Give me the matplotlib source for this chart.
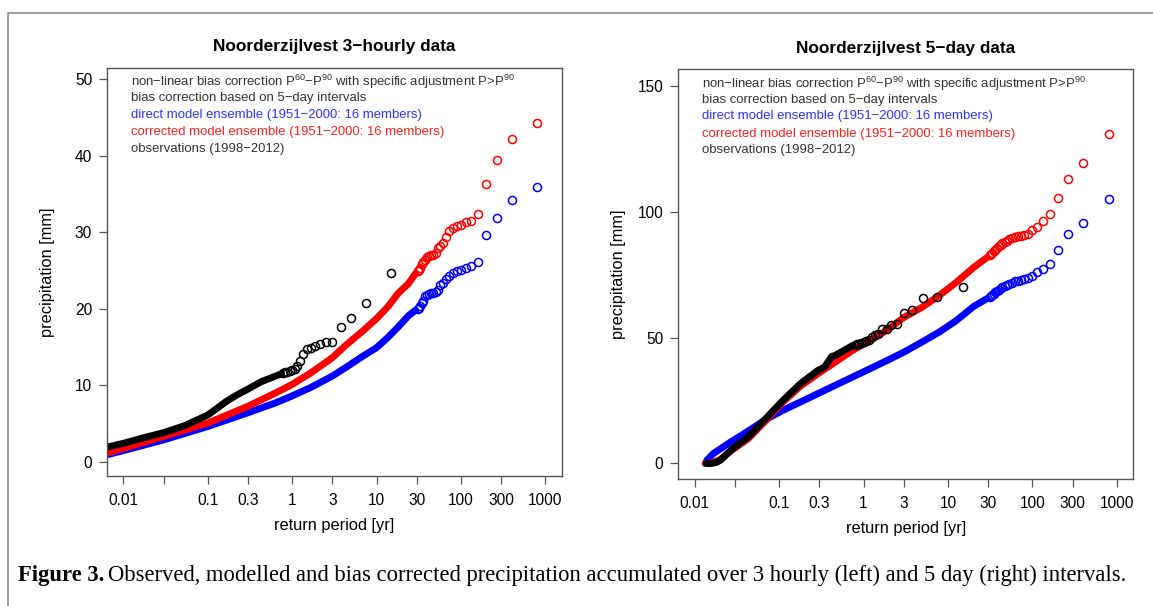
import matplotlib
matplotlib.use("Agg")
import matplotlib.pyplot as plt
from matplotlib.lines import Line2D
from matplotlib.ticker import NullLocator

plt.rcParams["font.family"] = ["Liberation Sans", "DejaVu Sans"]
plt.rcParams["mathtext.fontset"] = "custom"
plt.rcParams["mathtext.rm"] = "Liberation Sans"
plt.rcParams["mathtext.it"] = "Liberation Sans:italic"
plt.rcParams["mathtext.bf"] = "Liberation Sans:bold"

# ---- 3-hourly data (left panel), return period [yr] vs precipitation [mm]
obs3_band_T = [0.005, 0.0064, 0.01, 0.017, 0.03, 0.053, 0.1, 0.126, 0.167, 0.22, 0.3, 0.43, 0.64, 0.75]
obs3_band_P = [1.6, 1.9, 2.4, 3.1, 3.8, 4.7, 6.1, 6.9, 7.9, 8.7, 9.5, 10.45, 11.2, 11.5]
obs3_tail_T = [0.79, 0.83, 0.88, 0.94, 1.0, 1.07, 1.15, 1.25, 1.36, 1.5, 1.67, 1.88, 2.14, 2.5, 3.0, 3.75, 5.0, 7.5, 15.0]
obs3_tail_P = [11.6, 11.7, 11.75, 11.8, 12.0, 12.1, 12.5, 13.1, 14.05, 14.7, 14.9, 15.15, 15.4, 15.6, 15.7, 17.6, 18.8, 20.7, 24.7]

mod3_band_T = [0.005, 0.0064, 0.01, 0.03, 0.1, 0.3, 0.64, 1.0, 1.66, 3.0, 4.3, 6.9, 10.0, 13.5, 18.0, 24.0, 29.0]
mod3_band_P = [0.8, 0.9, 1.45, 2.85, 4.6, 6.4, 7.7, 8.6, 9.7, 11.2, 12.3, 13.8, 14.9, 16.2, 17.6, 19.1, 19.8]
cor3_band_T = [0.005, 0.0064, 0.01, 0.03, 0.1, 0.3, 0.64, 1.0, 1.66, 3.0, 4.3, 6.9, 10.0, 13.5, 18.0, 24.0, 29.0]
cor3_band_P = [0.95, 1.1, 1.75, 3.3, 5.05, 7.25, 9.0, 10.1, 11.6, 13.6, 15.2, 17.1, 18.7, 20.2, 22.0, 23.3, 24.6]

ens_tail_T = [800, 400, 267, 200, 160, 133, 114, 100, 89, 80, 73, 67, 62, 57, 53, 50, 47, 44, 42, 40, 38, 36, 35, 33, 32, 31]
mod3_tail_P = [35.9, 34.25, 31.9, 29.6, 26.1, 25.6, 25.3, 25.1, 24.9, 24.7, 24.3, 23.9, 23.3, 23.1, 22.4, 22.2,
               22.0, 22.0, 21.9, 21.8, 21.6, 21.0, 20.7, 20.3, 20.1, 20.0]
cor3_tail_P = [44.3, 42.2, 39.4, 36.3, 32.4, 31.4, 31.3, 31.0, 30.8, 30.6, 30.2, 29.4, 28.6, 28.2, 27.9, 27.3,
               27.0, 27.0, 26.9, 26.8, 26.4, 26.1, 25.9, 25.3, 25.0, 24.9]

# ---- 5-day data (right panel)
obs5_band_T = [0.0137, 0.016, 0.018, 0.0203, 0.027, 0.0433, 0.0694, 0.111, 0.179, 0.287, 0.345, 0.42, 0.46, 0.74]
obs5_band_P = [0.0, 0.0, 0.4, 1.3, 5.3, 10.6, 17.8, 25.0, 31.7, 36.9, 38.3, 42.5, 42.9, 46.8]
obs5_tail_T = [0.79, 0.83, 0.88, 0.94, 1.0, 1.07, 1.15, 1.25, 1.36, 1.5, 1.67, 1.88, 2.14, 2.5, 3.0, 3.75, 5.0, 7.5, 15.0]
obs5_tail_P = [47.0, 47.3, 47.6, 47.9, 48.2, 48.6, 49.2, 50.1, 51.1, 51.5, 53.2, 53.4, 55.1, 55.4, 59.9, 61.1, 65.6, 66.0, 69.9]

mod5_band_T = [0.0137, 0.014, 0.0168, 0.027, 0.0433, 0.0694, 0.111, 0.179, 0.287, 0.46, 0.74, 1.19, 1.9, 3.0, 4.9, 7.8, 12.5, 20.0, 29.0]
mod5_band_P = [0.5, 1.3, 4.0, 8.6, 12.9, 17.4, 21.1, 24.4, 27.7, 31.0, 34.3, 37.6, 40.9, 44.2, 48.2, 52.1, 56.7, 62.3, 65.5]
cor5_band_T = [0.0133, 0.0165, 0.02, 0.027, 0.0433, 0.0694, 0.111, 0.179, 0.287, 0.46, 0.74, 1.19, 1.9, 3.0, 4.9, 7.8, 12.5, 20.0, 29.0]
cor5_band_P = [0.0, 0.3, 1.5, 5.0, 9.9, 17.0, 24.4, 30.7, 35.6, 40.2, 44.9, 48.8, 53.0, 58.0, 62.0, 66.6, 71.9, 77.8, 81.8]

mod5_tail_P = [105.0, 95.6, 91.0, 84.7, 79.4, 77.2, 75.9, 74.5, 73.6, 73.2, 72.9, 72.6, 72.3, 71.8, 71.3, 71.0,
               70.5, 70.0, 69.5, 69.0, 68.5, 68.0, 67.5, 67.0, 66.5, 66.0]
cor5_tail_P = [131.0, 119.5, 113.0, 105.5, 99.0, 96.2, 94.0, 92.6, 91.3, 90.8, 90.5, 90.2, 89.9, 89.5, 89.0, 88.4,
               87.9, 87.4, 86.8, 86.2, 85.5, 84.8, 84.2, 83.6, 83.2, 82.8]

xticks = [0.01, 0.03, 0.1, 0.3, 1, 3, 10, 30, 100, 300, 1000]
xticklabels = ["0.01", "", "0.1", "0.3", "1", "3", "10", "30", "100", "300", "1000"]

legend_lines = [
    ("non\u2212linear bias correction P$^{60}$\u2212P$^{90}$ with specific adjustment P>P$^{90}$", "#333333"),
    ("bias correction based on 5\u2212day intervals", "#333333"),
    ("direct model ensemble (1951\u22122000: 16 members)", "#3030ff"),
    ("corrected model ensemble (1951\u22122000: 16 members)", "#ff2020"),
    ("observations (1998\u22122012)", "#333333"),
]

BLUE = "#0000ff"
RED = "#ff0000"
BLACK = "#000000"
W, H = 1153, 606


def draw_panel(ax, title, bands, tails, ylim, yticks, top_px, bot_px):
    for T, P, c in bands:
        ax.plot(T, P, color=c, lw=5, solid_capstyle="round", solid_joinstyle="round")
    for T, P, c in tails:
        ax.plot(T, P, "o", ms=5.8, mfc="none", mec=c, mew=1.1)
    ax.set_xscale("log")
    ax.set_xlim(0.00635, 1563)
    ax.set_ylim(*ylim)
    ax.set_xticks(xticks)
    ax.set_xticklabels(xticklabels)
    ax.xaxis.set_minor_locator(NullLocator())
    ax.set_yticks(yticks)
    for s in ax.spines.values():
        s.set_color("#555555")
        s.set_linewidth(1.0)
    ax.tick_params(axis="both", colors="#555555", labelcolor="black", length=5.5, width=0.9, labelsize=11.2)
    ax.tick_params(axis="x", pad=6.5)
    ax.tick_params(axis="y", pad=5.0)
    ax.set_xlabel("return period [yr]", fontsize=11.8)
    ax.set_ylabel("precipitation [mm]", fontsize=11.8)
    ax.xaxis.set_label_coords(0.5, -0.102)
    ax.yaxis.set_label_coords(-0.114, 0.5)
    h = bot_px - top_px
    ax.text(0.5, 1 + 21 / h, title, transform=ax.transAxes, ha="center", va="center",
            fontsize=12.4, fontweight="bold")
    y0 = top_px + 12
    for i, (txt, col) in enumerate(legend_lines):
        y = y0 + i * 17.0
        ax.text(24 / 455, (bot_px - y) / h, txt, transform=ax.transAxes, ha="left",
                va="center_baseline", fontsize=9.45, color=col)


fig = plt.figure(figsize=(W / 100, H / 100), dpi=100)

ax1 = fig.add_axes([106.7 / W, 1 - 476 / H, 455 / W, 408.3 / H])
draw_panel(ax1, "Noorderzijlvest 3\u2212hourly data",
           [(mod3_band_T, mod3_band_P, BLUE), (cor3_band_T, cor3_band_P, RED), (obs3_band_T, obs3_band_P, BLACK)],
           [(ens_tail_T, mod3_tail_P, BLUE), (ens_tail_T, cor3_tail_P, RED), (obs3_tail_T, obs3_tail_P, BLACK)],
           (-1.87, 51.5), [0, 10, 20, 30, 40, 50], 67.7, 476)

ax2 = fig.add_axes([678 / W, 1 - 479 / H, 455.3 / W, 410 / H])
draw_panel(ax2, "Noorderzijlvest 5\u2212day data",
           [(mod5_band_T, mod5_band_P, BLUE), (cor5_band_T, cor5_band_P, RED), (obs5_band_T, obs5_band_P, BLACK)],
           [(ens_tail_T, mod5_tail_P, BLUE), (ens_tail_T, cor5_tail_P, RED), (obs5_tail_T, obs5_tail_P, BLACK)],
           (-6.2, 156.7), [0, 50, 100, 150], 69, 479)

# page frame (cropped on the right and bottom)
fig.add_artist(Line2D([8 / W, 8 / W, 1], [0, 1 - 13 / H, 1 - 13 / H], transform=fig.transFigure,
                      color="#8a8a8a", lw=1.2))

# caption
cap1 = fig.text(18 / W, 1 - 576 / H, "Figure 3.", family="Liberation Serif", fontweight="bold",
                fontsize=16.3, va="center", ha="left")
ax1.annotate("Observed, modelled and bias corrected precipitation accumulated over 3 hourly (left) "
             "and 5 day (right) intervals.", xy=(1, 0), xycoords=cap1, xytext=(3, 0),
             textcoords="offset points", va="bottom", ha="left", family="Liberation Serif",
             fontsize=16.3, annotation_clip=False)

fig.savefig("out.png", dpi=100)
